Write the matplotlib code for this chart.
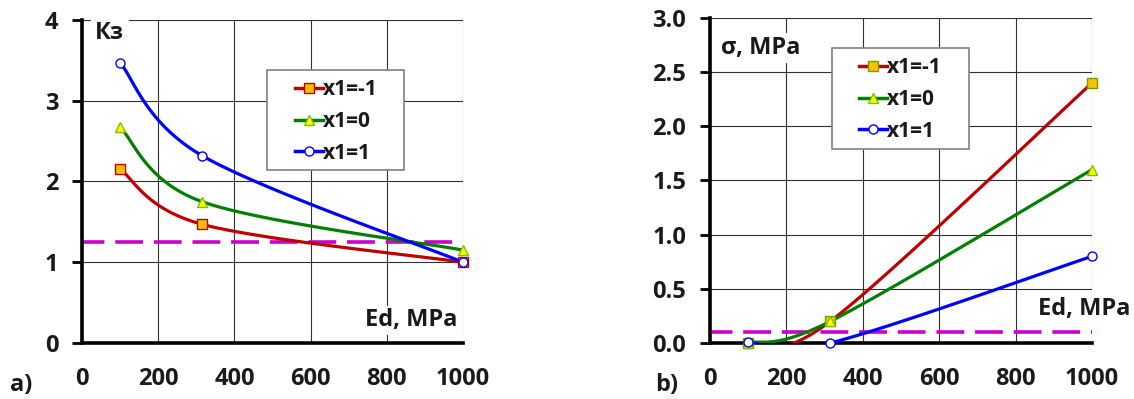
import numpy as np
import matplotlib.pyplot as plt
from matplotlib.lines import Line2D
from matplotlib.patches import Rectangle

plt.rcParams['font.family'] = ['Open Sans', 'DejaVu Sans']
plt.rcParams['font.weight'] = 'bold'

# data
ed = [100, 315, 1000]
series_labels = ['x1=-1', 'x1=0', 'x1=1']
kz_vals = [[2.15, 1.47, 1.00],
           [2.67, 1.75, 1.15],
           [3.47, 2.32, 1.00]]
sigma_vals = [[0.00, 0.20, 2.40],
              [0.00, 0.20, 1.60],
              [0.01, 0.00, 0.80]]
kz_limit = 1.25
sigma_limit = 0.1
x_ticks = [0, 200, 400, 600, 800, 1000]
kz_ticks = [0, 1, 2, 3, 4]
sigma_ticks = [0.0, 0.5, 1.0, 1.5, 2.0, 2.5, 3.0]

line_colors = ['#c00000', '#008000', '#0000ff']
markers = ['s', '^', 'o']
face_colors = ['#ffc000', '#ffff00', 'white']
txt_color = '#1a1a1a'
fs = 17
W, H = 1134, 399


def smooth(x, y, n=60):
    # Excel-style smoothed line (cubic bezier between the points)
    p = np.column_stack([x, y]).astype(float)
    out = []
    t = np.linspace(0, 1, n)[:, None]
    for i in range(len(p) - 1):
        p0 = p[i - 1] if i > 0 else p[i]
        p1, p2 = p[i], p[i + 1]
        p3 = p[i + 2] if i + 2 < len(p) else p[i + 1]
        c1 = p1 + (p2 - p0) / 6
        c2 = p2 - (p3 - p1) / 6
        seg = (1 - t) ** 3 * p1 + 3 * (1 - t) ** 2 * t * c1 + 3 * (1 - t) * t ** 2 * c2 + t ** 3 * p2
        out.append(seg)
    seg = np.vstack(out)
    return seg[:, 0], seg[:, 1]


fig = plt.figure(figsize=(11.34, 3.99), dpi=100)
ax1 = fig.add_axes([0.0723, 0.1404, 0.336, 0.8096])
ax2 = fig.add_axes([0.626, 0.1404, 0.337, 0.8146])


def setup(ax, yticks, fmt):
    ax.set_xlim(0, 1000)
    ax.set_ylim(yticks[0], yticks[-1])
    ax.set_xticks(x_ticks)
    ax.set_xticklabels([str(v) for v in x_ticks], fontweight='bold', fontsize=fs, color=txt_color)
    ax.set_yticks(yticks)
    ax.set_yticklabels([fmt.format(v) for v in yticks], fontweight='bold', fontsize=fs, color=txt_color)
    ax.grid(True, color='#303030', linewidth=0.8)
    ax.set_axisbelow(True)
    for s in ['top', 'right']:
        ax.spines[s].set_visible(False)
    for s in ['left', 'bottom']:
        ax.spines[s].set_linewidth(2.6)
    ax.tick_params(axis='y', length=7, width=2, pad=10)
    ax.tick_params(axis='x', length=0, pad=17)


def draw(ax, vals, edge_colors, limit):
    handles = []
    for k in range(3):
        sx, sy = smooth(ed, vals[k])
        ax.plot(sx, sy, color=line_colors[k], linewidth=2.3, zorder=3)
        ax.plot(ed, vals[k], linestyle='none', marker=markers[k], markersize=6.5,
                markerfacecolor=face_colors[k], markeredgecolor=edge_colors[k],
                markeredgewidth=1, zorder=4, clip_on=False)
        handles.append(Line2D([], [], color=line_colors[k], linewidth=2.5, marker=markers[k],
                              markersize=6.5, markerfacecolor=face_colors[k],
                              markeredgecolor=edge_colors[k], markeredgewidth=1))
    ax.axhline(limit, color='#cc00cc', linestyle=(1.5, (7.7, 3.0)), linewidth=2.6, zorder=2)
    return handles


def legend(ax, handles, box, first_row):
    # box = (left, top, right, bottom) in pixels, first_row = (handle x, row y) in pixels
    l, t, r, b = box
    ax.add_patch(Rectangle((l / W, 1 - b / H), (r - l) / W, (b - t) / H, transform=fig.transFigure,
                           facecolor='white', edgecolor='#808080', linewidth=1.2, zorder=5, clip_on=False))
    hx, hy = first_row
    leg = ax.legend(handles, series_labels, loc='upper left',
                    bbox_to_anchor=(hx / W, 1 - (hy - 8) / H), bbox_transform=fig.transFigure,
                    borderaxespad=0, borderpad=0, frameon=False,
                    prop={'weight': 'bold', 'size': 15}, handlelength=1.35, handletextpad=0.0,
                    labelspacing=0.52)
    leg.set_zorder(6)
    for txt in leg.get_texts():
        txt.set_color(txt_color)


setup(ax1, kz_ticks, '{:g}')
h1 = draw(ax1, kz_vals, ['#c00000', '#7fbf00', '#0000ff'], kz_limit)
legend(ax1, h1, (267, 70, 404, 170), (295, 87))
ax1.text(35, 3.84, 'Кз', fontsize=fs, fontweight='bold', ha='left', va='center', color=txt_color,
         bbox=dict(facecolor='white', edgecolor='none', pad=3))
ax1.text(985, 0.28, 'Ed, MPa', fontsize=fs, fontweight='bold', ha='right', va='center', color=txt_color,
         bbox=dict(facecolor='white', edgecolor='none', pad=2))

setup(ax2, sigma_ticks, '{:.1f}')
h2 = draw(ax2, sigma_vals, ['#70a000', '#7fbf00', '#0000ff'], sigma_limit)
legend(ax2, h2, (832, 48, 969, 149), (859, 65))
ax2.text(30, 2.72, 'σ, MPa', fontsize=fs, fontweight='bold', ha='left', va='center', color=txt_color,
         bbox=dict(facecolor='white', edgecolor='none', pad=2))
ax2.text(1100, 0.31, 'Ed, MPa', fontsize=fs, fontweight='bold', ha='right', va='center', color=txt_color,
         clip_on=False, bbox=dict(facecolor='white', edgecolor='none', pad=3))

fig.text(0.009, 0.02, 'a)', fontsize=fs, fontweight='bold', color=txt_color)
fig.text(0.578, 0.02, 'b)', fontsize=fs, fontweight='bold', color=txt_color)

fig.savefig('out.png', dpi=100)
